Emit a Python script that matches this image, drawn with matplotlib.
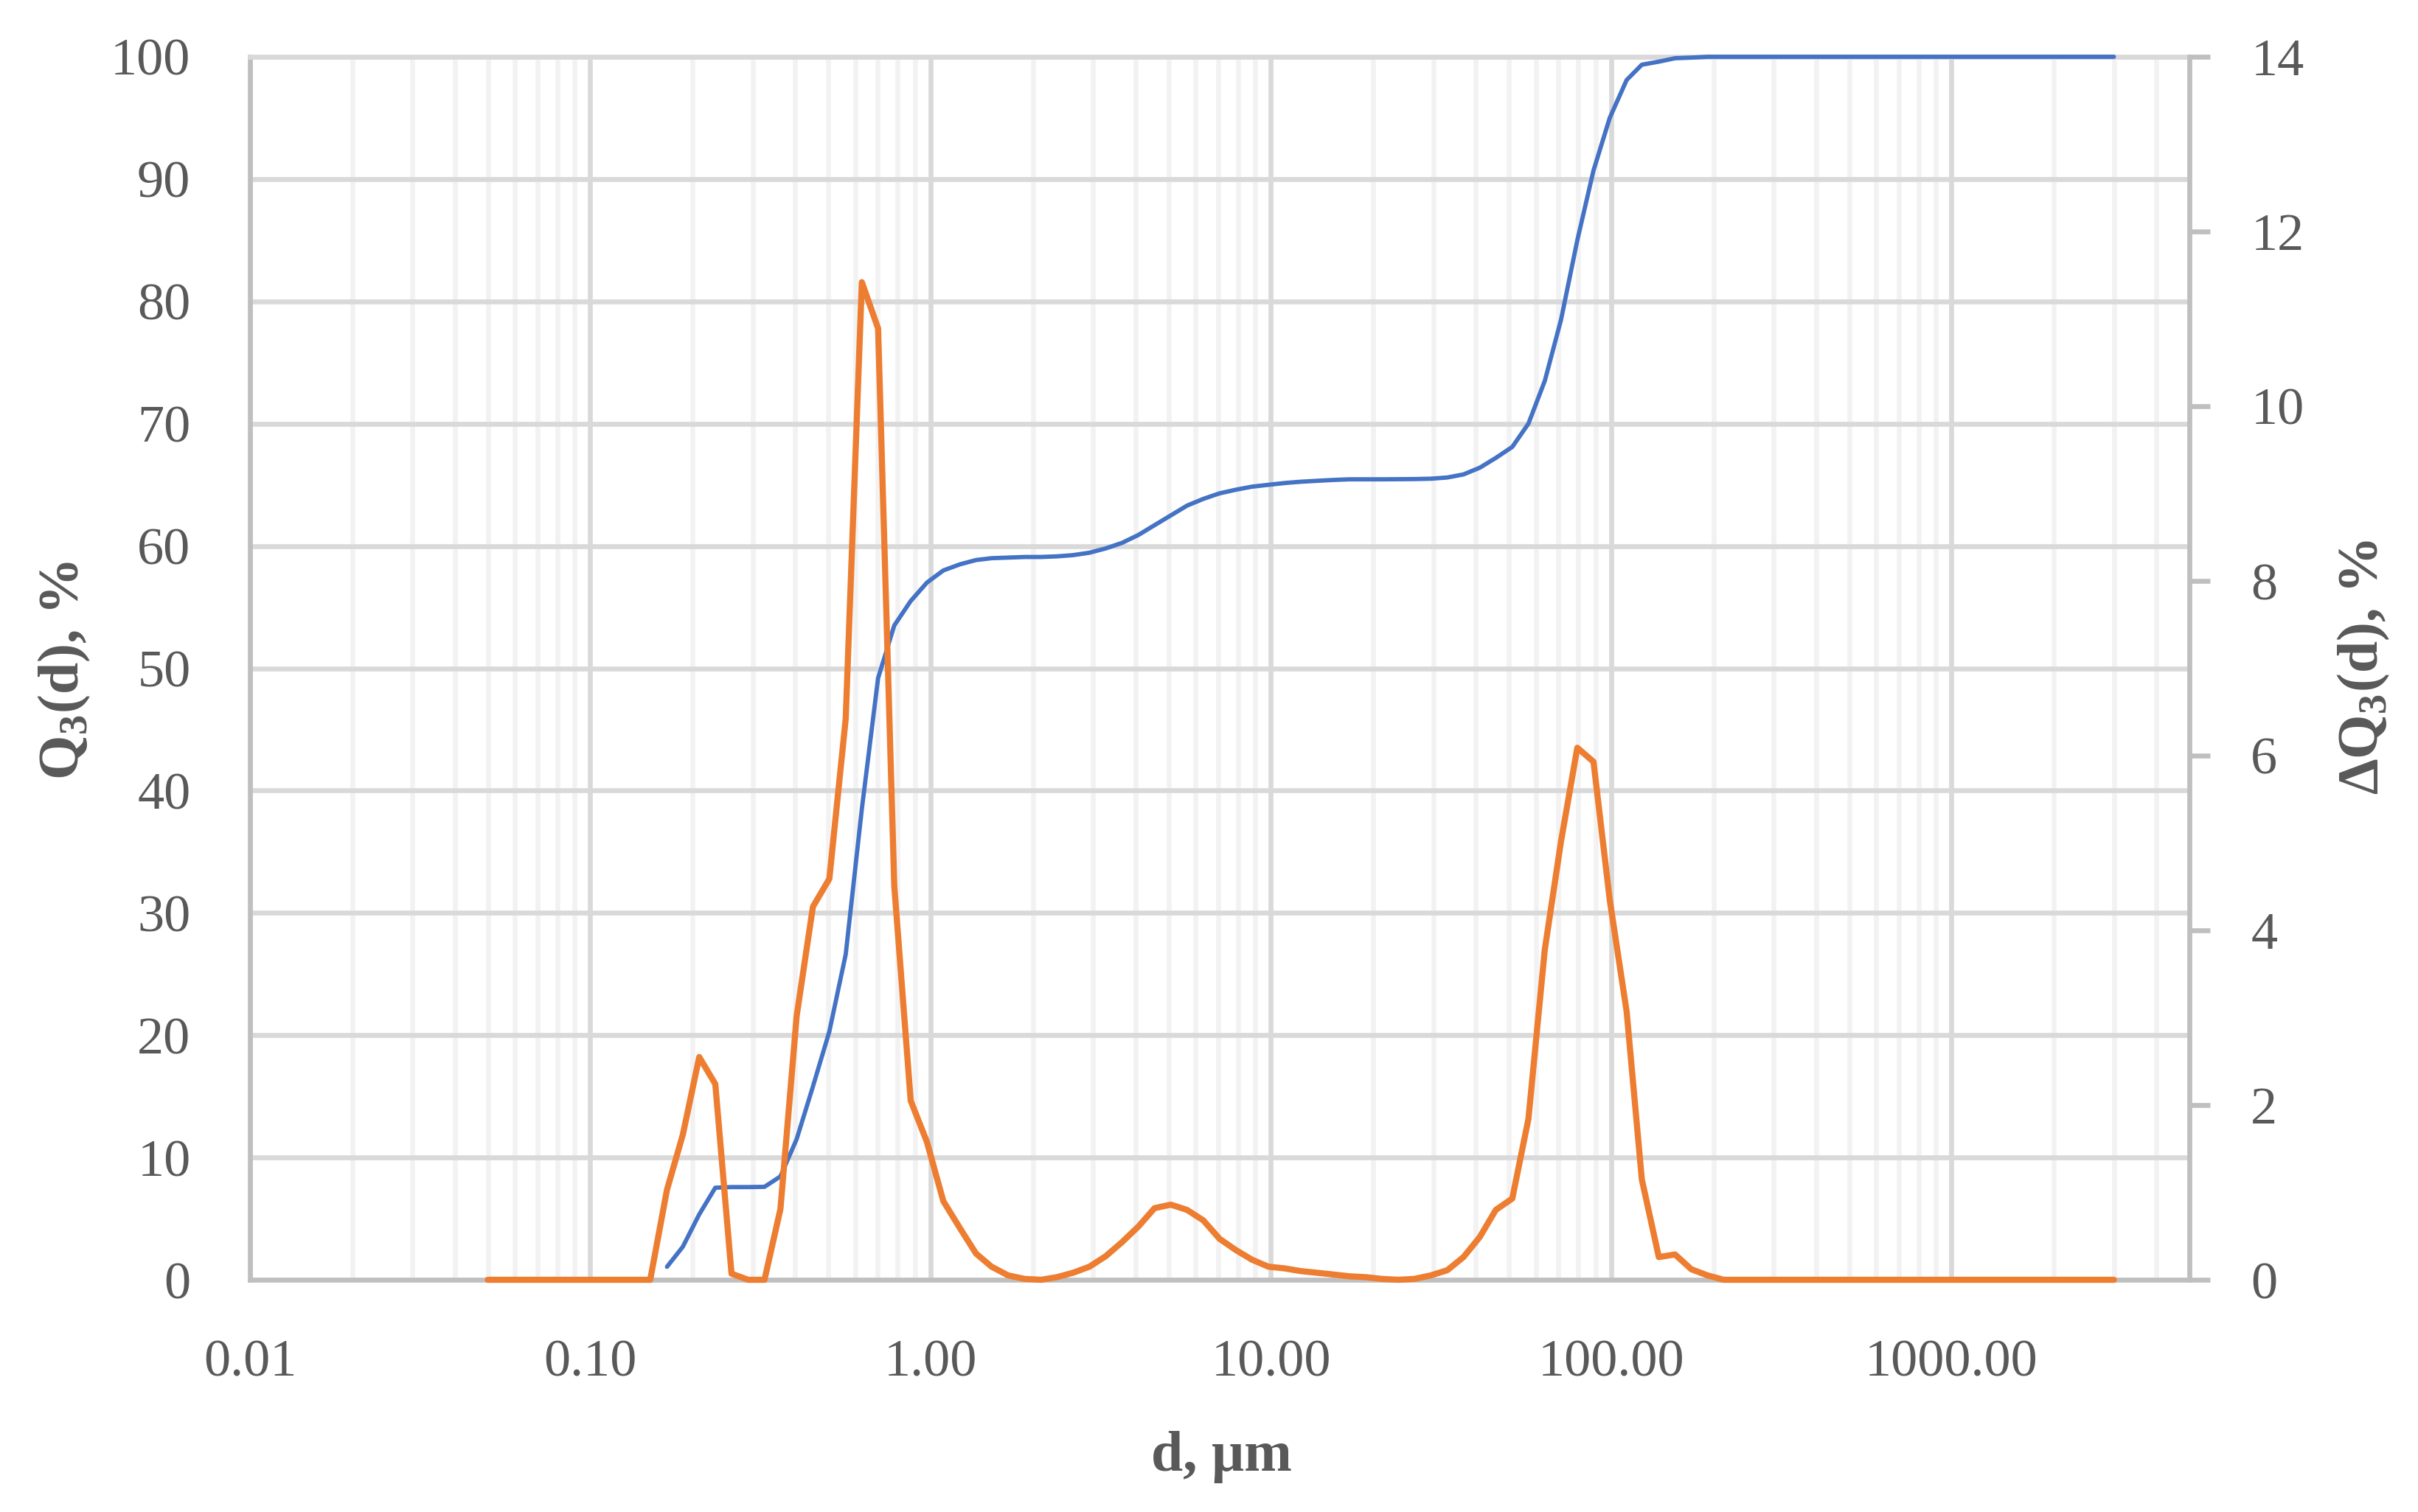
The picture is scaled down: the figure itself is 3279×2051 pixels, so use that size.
import matplotlib
matplotlib.use("Agg")
import matplotlib.pyplot as plt
from matplotlib.ticker import FixedLocator, NullFormatter, FuncFormatter

# particle size classes, um
d_um = [
    0.0500, 0.0558, 0.0623, 0.0696, 0.0776, 0.0867, 0.0967, 0.108, 0.121, 0.135,
    0.150, 0.168, 0.187, 0.209, 0.233, 0.260, 0.291, 0.325, 0.362, 0.404,
    0.451, 0.504, 0.563, 0.628, 0.701, 0.782, 0.874, 0.975, 1.09, 1.22,
    1.36, 1.51, 1.69, 1.89, 2.11, 2.35, 2.62, 2.93, 3.27, 3.65,
    4.08, 4.55, 5.08, 5.67, 6.33, 7.06, 7.89, 8.80, 9.83, 11.0,
    12.2, 13.7, 15.3, 17.0, 19.0, 21.2, 23.7, 26.4, 29.5, 33.0,
    36.8, 41.1, 45.8, 51.2, 57.1, 63.8, 71.2, 79.5, 88.7, 99.0,
    111, 123, 138, 154, 172, 192, 214, 239, 267, 298,
    332, 371, 414, 462, 516, 576, 643, 718, 801, 894,
    998, 1114, 1244, 1388, 1550, 1730, 1931, 2156, 2407, 2687,
    3000,
]

# differential distribution, % (right axis)
dq3 = [
    0, 0, 0, 0, 0, 0, 0, 0, 0, 0,
    0, 1.03, 1.66, 2.55, 2.24, 0.07, 0, 0, 0.81, 3.02,
    4.27, 4.59, 6.42, 11.42, 10.89, 4.51, 2.05, 1.58, 0.90, 0.59,
    0.30, 0.15, 0.05, 0.01, 0, 0.03, 0.08, 0.15, 0.27, 0.43,
    0.61, 0.82, 0.86, 0.80, 0.68, 0.47, 0.34, 0.23, 0.15, 0.13,
    0.10, 0.08, 0.06, 0.04, 0.03, 0.01, 0, 0.01, 0.05, 0.11,
    0.26, 0.49, 0.80, 0.93, 1.84, 3.78, 5.02, 6.09, 5.93, 4.35,
    3.07, 1.15, 0.26, 0.29, 0.12, 0.05, 0, 0, 0, 0,
    0, 0, 0, 0, 0, 0, 0, 0, 0, 0,
    0, 0, 0, 0, 0, 0, 0, 0, 0, 0,
    0,
]

# cumulative distribution, % (left axis), starts at the 12th class
q3_first = 11
q3 = [
    1.06, 2.7, 5.35, 7.53, 7.58, 7.58, 7.6, 8.45, 11.5,
    15.8, 20.3, 26.6, 38.5, 49.2, 53.5, 55.5, 57.0, 58.0, 58.5,
    58.85, 59.0, 59.05, 59.1, 59.1, 59.15, 59.25, 59.45, 59.8, 60.25,
    60.9, 61.7, 62.5, 63.3, 63.85, 64.3, 64.6, 64.85, 65.0, 65.15,
    65.25, 65.33, 65.4, 65.45, 65.45, 65.45, 65.46, 65.47, 65.5, 65.6,
    65.85, 66.4, 67.2, 68.1, 70.0, 73.5, 78.5, 85.0, 90.7, 95.0,
    98.1, 99.35, 99.6, 99.88, 99.93, 100, 100, 100, 100, 100,
    100, 100, 100, 100, 100, 100, 100, 100, 100, 100,
    100, 100, 100, 100, 100, 100, 100, 100, 100, 100,
    100,
]

x_major = [0.01, 0.1, 1, 10, 100, 1000]
x_minor = [m * x for x in x_major for m in range(2, 10)]

GRID = "#D9D9D9"
MINOR = "#F2F2F2"
AXIS = "#BFBFBF"
TEXT = "#595959"

plt.rcParams["font.family"] = ["Liberation Serif", "DejaVu Serif"]
plt.rcParams["mathtext.fontset"] = "custom"
plt.rcParams["mathtext.rm"] = "Liberation Serif"
plt.rcParams["mathtext.bf"] = "Liberation Serif:bold"


def main():
    fig = plt.figure(figsize=(16.4, 10.255), dpi=200)
    fig.subplots_adjust(left=339 / 3280, right=2969 / 3280,
                        bottom=1 - 1736 / 2051, top=1 - 77 / 2051)
    ax = fig.add_subplot(111)

    ax.set_xscale("log")
    ax.set_xlim(0.01, 5000)
    ax.set_ylim(0, 100)
    ax.xaxis.set_major_locator(FixedLocator(x_major))
    ax.xaxis.set_minor_locator(FixedLocator(x_minor))
    ax.xaxis.set_major_formatter(FuncFormatter(lambda v, p: "{:.2f}".format(v)))
    ax.xaxis.set_minor_formatter(NullFormatter())
    ax.set_yticks(range(0, 101, 10))

    ax.grid(which="minor", axis="x", color=MINOR, lw=2.4)
    ax.grid(which="major", axis="both", color=GRID, lw=2.4)
    ax.set_axisbelow(True)

    ax.tick_params(axis="both", which="both", length=0)
    ax.tick_params(axis="both", labelsize=26, labelcolor=TEXT, pad=29)

    for side in ["left", "bottom"]:
        ax.spines[side].set_color(AXIS)
        ax.spines[side].set_linewidth(2.4)
    ax.spines["top"].set_color(GRID)
    ax.spines["top"].set_linewidth(2.4)
    ax.spines["right"].set_visible(False)

    ax.plot(d_um[q3_first:], q3, color="#4472C4", lw=2.1, clip_on=False,
            solid_joinstyle="round", solid_capstyle="round", zorder=3)

    ax2 = ax.twinx()
    ax2.set_ylim(0, 14)
    ax2.set_yticks(range(0, 15, 2))
    ax2.tick_params(axis="y", length=10, width=2.4, color=AXIS,
                    labelsize=26, labelcolor=TEXT, pad=20)
    for side in ["left", "bottom", "top"]:
        ax2.spines[side].set_visible(False)
    ax2.spines["right"].set_color(AXIS)
    ax2.spines["right"].set_linewidth(2.4)

    ax2.plot(d_um, dq3, color="#ED7D31", lw=3.0, clip_on=False,
             solid_joinstyle="round", solid_capstyle="round", zorder=3)

    fig.text(87 / 3280, 1 - 910 / 2051, r"Q$_{\mathbf{3}}$(d), %",
             rotation=90, ha="center", va="center", fontsize=28,
             fontweight="bold", color=TEXT)
    fig.text(3205 / 3280, 1 - 905 / 2051, r"ΔQ$_{\mathbf{3}}$(d), %",
             rotation=90, ha="center", va="center", fontsize=28,
             fontweight="bold", color=TEXT)
    fig.text(1657 / 3280, 1 - 1995 / 2051, "d, μm", ha="center",
             va="baseline", fontsize=28, fontweight="bold", color=TEXT)

    fig.savefig("out.png", dpi=200)


if __name__ == "__main__":
    main()
